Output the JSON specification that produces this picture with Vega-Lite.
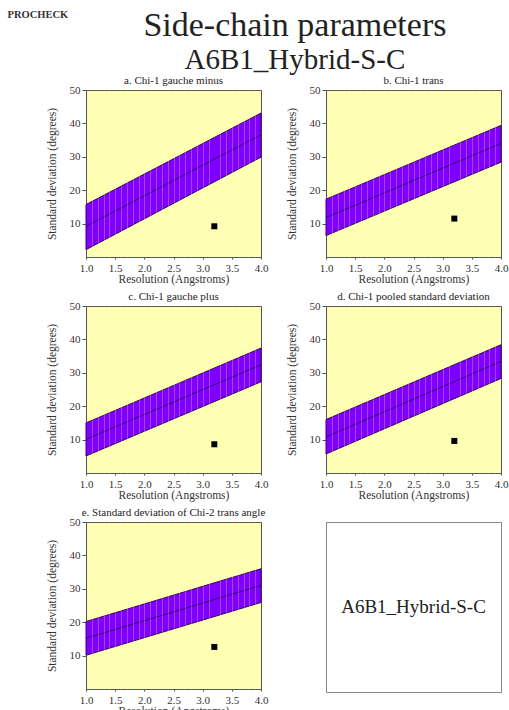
{
  "$schema": "https://vega.github.io/schema/vega-lite/v6.json",
  "padding": {"left": 7, "top": 8, "right": 0, "bottom": 0},
  "background": "white",
  "title": {"text": "PROCHECK", "anchor": "start", "frame": "bounds", "fontSize": 10.5, "fontWeight": "bold", "font": "Liberation Serif", "color": "#333333", "dx": -38, "offset": -12},
  "datasets": {
    "bands": [
      {"panel": "a", "resolution": 1.0, "lower": 2.2, "centre": 9.2, "upper": 15.7},
      {"panel": "a", "resolution": 4.0, "lower": 29.9, "centre": 36.6, "upper": 43.1},
      {"panel": "b", "resolution": 1.0, "lower": 6.4, "centre": 11.8, "upper": 17.3},
      {"panel": "b", "resolution": 4.0, "lower": 28.4, "centre": 34.0, "upper": 39.4},
      {"panel": "c", "resolution": 1.0, "lower": 5.1, "centre": 10.1, "upper": 15.0},
      {"panel": "c", "resolution": 4.0, "lower": 27.3, "centre": 32.4, "upper": 37.4},
      {"panel": "d", "resolution": 1.0, "lower": 5.7, "centre": 10.8, "upper": 16.0},
      {"panel": "d", "resolution": 4.0, "lower": 28.3, "centre": 33.4, "upper": 38.4},
      {"panel": "e", "resolution": 1.0, "lower": 10.1, "centre": 15.2, "upper": 20.2},
      {"panel": "e", "resolution": 4.0, "lower": 25.9, "centre": 31.0, "upper": 36.0}
    ],
    "points": [
      {"panel": "a", "resolution": 3.2, "sd": 9.2},
      {"panel": "b", "resolution": 3.2, "sd": 11.5},
      {"panel": "c", "resolution": 3.2, "sd": 8.6},
      {"panel": "d", "resolution": 3.2, "sd": 9.6},
      {"panel": "e", "resolution": 3.2, "sd": 12.6}
    ]
  },
  "config": {
    "font": "Liberation Serif",
    "view": {"fill": "#FFFFB4", "stroke": "#555555", "strokeWidth": 1},
    "title": {"fontSize": 11, "fontWeight": "normal", "offset": -2, "frame": "group", "color": "#222222", "font": "Liberation Serif"},
    "axis": {"labelFont": "Liberation Serif", "labelFontSize": 11, "titleFont": "Liberation Serif", "titleFontSize": 11.5, "titleFontWeight": "normal", "labelColor": "#333333", "titleColor": "#333333", "domain": false, "tickColor": "#555555", "tickSize": 4, "grid": false}
  },
  "vconcat": [
    {
      "title": {"text": "Side-chain parameters", "subtitle": "A6B1_Hybrid-S-C", "fontSize": 34, "subtitleFontSize": 29, "subtitleFont": "Liberation Serif", "subtitleColor": "#222222", "anchor": "middle", "frame": "bounds", "offset": 0, "subtitlePadding": 3, "dx": 18},
      "columns": 2,
      "bounds": "flush",
      "spacing": {"row": 49, "column": 65},
      "concat": [
        {
          "width": 175, "height": 167,
          "title": {"text": "a. Chi-1 gauche minus"},
          "layer": [
            {"data": {"name": "bands"}, "transform": [{"filter": "datum.panel == 'a'"}],
             "mark": {"type": "area", "color": "#8000FF", "stroke": "#3A006E", "strokeWidth": 1, "opacity": 1},
             "encoding": {
               "x": {"field": "resolution", "type": "quantitative", "scale": {"domain": [1, 4], "nice": false}, "title": "Resolution (Angstroms)",
                     "axis": {"values": [1.0,1.1,1.2,1.3,1.4,1.5,1.6,1.7,1.8,1.9,2.0,2.1,2.2,2.3,2.4,2.5,2.6,2.7,2.8,2.9,3.0,3.1,3.2,3.3,3.4,3.5,3.6,3.7,3.8,3.9,4.0], "tickCount": 100,
                              "labelExpr": "abs(datum.value*2 - round(datum.value*2)) < 0.01 ? format(datum.value, '.1f') : ''",
                              "grid": true, "gridColor": "#FFFFB4",
                              "gridOpacity": {"condition": {"test": "datum.value > 1.01 && datum.value < 3.99 && abs(datum.value - 3.2) > 0.01", "value": 0.27}, "value": 0},
                              "tickOpacity": {"condition": {"test": "abs(datum.value*2 - round(datum.value*2)) < 0.01", "value": 1}, "value": 0},
                              "tickSize": 2, "zindex": 1, "labelOverlap": false, "labelFlush": false, "labelPadding": 3, "titlePadding": 0}},
               "y": {"field": "lower", "type": "quantitative", "scale": {"domain": [0, 50], "nice": false}, "title": "Standard deviation (degrees)",
                     "axis": {"values": [10, 20, 30, 40, 50], "labelPadding": 2, "titlePadding": 12}},
               "y2": {"field": "upper"}
             }},
            {"data": {"name": "bands"}, "transform": [{"filter": "datum.panel == 'a'"}],
             "mark": {"type": "line", "color": "#3A006E", "strokeWidth": 1},
             "encoding": {"x": {"field": "resolution", "type": "quantitative", "title": "Resolution (Angstroms)"}, "y": {"field": "centre", "type": "quantitative", "title": "Standard deviation (degrees)"}}},
            {"data": {"name": "points"}, "transform": [{"filter": "datum.panel == 'a'"}],
             "mark": {"type": "square", "color": "black", "size": 36, "opacity": 1},
             "encoding": {"x": {"field": "resolution", "type": "quantitative", "title": "Resolution (Angstroms)"}, "y": {"field": "sd", "type": "quantitative", "title": "Standard deviation (degrees)"}}}
          ]
        },
        {
          "width": 175, "height": 167,
          "title": {"text": "b. Chi-1 trans"},
          "layer": [
            {"data": {"name": "bands"}, "transform": [{"filter": "datum.panel == 'b'"}],
             "mark": {"type": "area", "color": "#8000FF", "stroke": "#3A006E", "strokeWidth": 1, "opacity": 1},
             "encoding": {
               "x": {"field": "resolution", "type": "quantitative", "scale": {"domain": [1, 4], "nice": false}, "title": "Resolution (Angstroms)",
                     "axis": {"values": [1.0,1.1,1.2,1.3,1.4,1.5,1.6,1.7,1.8,1.9,2.0,2.1,2.2,2.3,2.4,2.5,2.6,2.7,2.8,2.9,3.0,3.1,3.2,3.3,3.4,3.5,3.6,3.7,3.8,3.9,4.0], "tickCount": 100,
                              "labelExpr": "abs(datum.value*2 - round(datum.value*2)) < 0.01 ? format(datum.value, '.1f') : ''",
                              "grid": true, "gridColor": "#FFFFB4",
                              "gridOpacity": {"condition": {"test": "datum.value > 1.01 && datum.value < 3.99 && abs(datum.value - 3.2) > 0.01", "value": 0.27}, "value": 0},
                              "tickOpacity": {"condition": {"test": "abs(datum.value*2 - round(datum.value*2)) < 0.01", "value": 1}, "value": 0},
                              "tickSize": 2, "zindex": 1, "labelOverlap": false, "labelFlush": false, "labelPadding": 3, "titlePadding": 0}},
               "y": {"field": "lower", "type": "quantitative", "scale": {"domain": [0, 50], "nice": false}, "title": "Standard deviation (degrees)",
                     "axis": {"values": [10, 20, 30, 40, 50], "labelPadding": 2, "titlePadding": 12}},
               "y2": {"field": "upper"}
             }},
            {"data": {"name": "bands"}, "transform": [{"filter": "datum.panel == 'b'"}],
             "mark": {"type": "line", "color": "#3A006E", "strokeWidth": 1},
             "encoding": {"x": {"field": "resolution", "type": "quantitative", "title": "Resolution (Angstroms)"}, "y": {"field": "centre", "type": "quantitative", "title": "Standard deviation (degrees)"}}},
            {"data": {"name": "points"}, "transform": [{"filter": "datum.panel == 'b'"}],
             "mark": {"type": "square", "color": "black", "size": 36, "opacity": 1},
             "encoding": {"x": {"field": "resolution", "type": "quantitative", "title": "Resolution (Angstroms)"}, "y": {"field": "sd", "type": "quantitative", "title": "Standard deviation (degrees)"}}}
          ]
        },
        {
          "width": 175, "height": 167,
          "title": {"text": "c. Chi-1 gauche plus"},
          "layer": [
            {"data": {"name": "bands"}, "transform": [{"filter": "datum.panel == 'c'"}],
             "mark": {"type": "area", "color": "#8000FF", "stroke": "#3A006E", "strokeWidth": 1, "opacity": 1},
             "encoding": {
               "x": {"field": "resolution", "type": "quantitative", "scale": {"domain": [1, 4], "nice": false}, "title": "Resolution (Angstroms)",
                     "axis": {"values": [1.0,1.1,1.2,1.3,1.4,1.5,1.6,1.7,1.8,1.9,2.0,2.1,2.2,2.3,2.4,2.5,2.6,2.7,2.8,2.9,3.0,3.1,3.2,3.3,3.4,3.5,3.6,3.7,3.8,3.9,4.0], "tickCount": 100,
                              "labelExpr": "abs(datum.value*2 - round(datum.value*2)) < 0.01 ? format(datum.value, '.1f') : ''",
                              "grid": true, "gridColor": "#FFFFB4",
                              "gridOpacity": {"condition": {"test": "datum.value > 1.01 && datum.value < 3.99 && abs(datum.value - 3.2) > 0.01", "value": 0.27}, "value": 0},
                              "tickOpacity": {"condition": {"test": "abs(datum.value*2 - round(datum.value*2)) < 0.01", "value": 1}, "value": 0},
                              "tickSize": 2, "zindex": 1, "labelOverlap": false, "labelFlush": false, "labelPadding": 3, "titlePadding": 0}},
               "y": {"field": "lower", "type": "quantitative", "scale": {"domain": [0, 50], "nice": false}, "title": "Standard deviation (degrees)",
                     "axis": {"values": [10, 20, 30, 40, 50], "labelPadding": 2, "titlePadding": 12}},
               "y2": {"field": "upper"}
             }},
            {"data": {"name": "bands"}, "transform": [{"filter": "datum.panel == 'c'"}],
             "mark": {"type": "line", "color": "#3A006E", "strokeWidth": 1},
             "encoding": {"x": {"field": "resolution", "type": "quantitative", "title": "Resolution (Angstroms)"}, "y": {"field": "centre", "type": "quantitative", "title": "Standard deviation (degrees)"}}},
            {"data": {"name": "points"}, "transform": [{"filter": "datum.panel == 'c'"}],
             "mark": {"type": "square", "color": "black", "size": 36, "opacity": 1},
             "encoding": {"x": {"field": "resolution", "type": "quantitative", "title": "Resolution (Angstroms)"}, "y": {"field": "sd", "type": "quantitative", "title": "Standard deviation (degrees)"}}}
          ]
        },
        {
          "width": 175, "height": 167,
          "title": {"text": "d. Chi-1 pooled standard deviation"},
          "layer": [
            {"data": {"name": "bands"}, "transform": [{"filter": "datum.panel == 'd'"}],
             "mark": {"type": "area", "color": "#8000FF", "stroke": "#3A006E", "strokeWidth": 1, "opacity": 1},
             "encoding": {
               "x": {"field": "resolution", "type": "quantitative", "scale": {"domain": [1, 4], "nice": false}, "title": "Resolution (Angstroms)",
                     "axis": {"values": [1.0,1.1,1.2,1.3,1.4,1.5,1.6,1.7,1.8,1.9,2.0,2.1,2.2,2.3,2.4,2.5,2.6,2.7,2.8,2.9,3.0,3.1,3.2,3.3,3.4,3.5,3.6,3.7,3.8,3.9,4.0], "tickCount": 100,
                              "labelExpr": "abs(datum.value*2 - round(datum.value*2)) < 0.01 ? format(datum.value, '.1f') : ''",
                              "grid": true, "gridColor": "#FFFFB4",
                              "gridOpacity": {"condition": {"test": "datum.value > 1.01 && datum.value < 3.99 && abs(datum.value - 3.2) > 0.01", "value": 0.27}, "value": 0},
                              "tickOpacity": {"condition": {"test": "abs(datum.value*2 - round(datum.value*2)) < 0.01", "value": 1}, "value": 0},
                              "tickSize": 2, "zindex": 1, "labelOverlap": false, "labelFlush": false, "labelPadding": 3, "titlePadding": 0}},
               "y": {"field": "lower", "type": "quantitative", "scale": {"domain": [0, 50], "nice": false}, "title": "Standard deviation (degrees)",
                     "axis": {"values": [10, 20, 30, 40, 50], "labelPadding": 2, "titlePadding": 12}},
               "y2": {"field": "upper"}
             }},
            {"data": {"name": "bands"}, "transform": [{"filter": "datum.panel == 'd'"}],
             "mark": {"type": "line", "color": "#3A006E", "strokeWidth": 1},
             "encoding": {"x": {"field": "resolution", "type": "quantitative", "title": "Resolution (Angstroms)"}, "y": {"field": "centre", "type": "quantitative", "title": "Standard deviation (degrees)"}}},
            {"data": {"name": "points"}, "transform": [{"filter": "datum.panel == 'd'"}],
             "mark": {"type": "square", "color": "black", "size": 36, "opacity": 1},
             "encoding": {"x": {"field": "resolution", "type": "quantitative", "title": "Resolution (Angstroms)"}, "y": {"field": "sd", "type": "quantitative", "title": "Standard deviation (degrees)"}}}
          ]
        },
        {
          "width": 175, "height": 167,
          "title": {"text": "e. Standard deviation of Chi-2 trans angle"},
          "layer": [
            {"data": {"name": "bands"}, "transform": [{"filter": "datum.panel == 'e'"}],
             "mark": {"type": "area", "color": "#8000FF", "stroke": "#3A006E", "strokeWidth": 1, "opacity": 1},
             "encoding": {
               "x": {"field": "resolution", "type": "quantitative", "scale": {"domain": [1, 4], "nice": false}, "title": "Resolution (Angstroms)",
                     "axis": {"values": [1.0,1.1,1.2,1.3,1.4,1.5,1.6,1.7,1.8,1.9,2.0,2.1,2.2,2.3,2.4,2.5,2.6,2.7,2.8,2.9,3.0,3.1,3.2,3.3,3.4,3.5,3.6,3.7,3.8,3.9,4.0], "tickCount": 100,
                              "labelExpr": "abs(datum.value*2 - round(datum.value*2)) < 0.01 ? format(datum.value, '.1f') : ''",
                              "grid": true, "gridColor": "#FFFFB4",
                              "gridOpacity": {"condition": {"test": "datum.value > 1.01 && datum.value < 3.99 && abs(datum.value - 3.2) > 0.01", "value": 0.27}, "value": 0},
                              "tickOpacity": {"condition": {"test": "abs(datum.value*2 - round(datum.value*2)) < 0.01", "value": 1}, "value": 0},
                              "tickSize": 2, "zindex": 1, "labelOverlap": false, "labelFlush": false, "labelPadding": 3, "titlePadding": 0}},
               "y": {"field": "lower", "type": "quantitative", "scale": {"domain": [0, 50], "nice": false}, "title": "Standard deviation (degrees)",
                     "axis": {"values": [10, 20, 30, 40, 50], "labelPadding": 2, "titlePadding": 12}},
               "y2": {"field": "upper"}
             }},
            {"data": {"name": "bands"}, "transform": [{"filter": "datum.panel == 'e'"}],
             "mark": {"type": "line", "color": "#3A006E", "strokeWidth": 1},
             "encoding": {"x": {"field": "resolution", "type": "quantitative", "title": "Resolution (Angstroms)"}, "y": {"field": "centre", "type": "quantitative", "title": "Standard deviation (degrees)"}}},
            {"data": {"name": "points"}, "transform": [{"filter": "datum.panel == 'e'"}],
             "mark": {"type": "square", "color": "black", "size": 36, "opacity": 1},
             "encoding": {"x": {"field": "resolution", "type": "quantitative", "title": "Resolution (Angstroms)"}, "y": {"field": "sd", "type": "quantitative", "title": "Standard deviation (degrees)"}}}
          ]
        },
        {
          "width": 175, "height": 170,
          "view": {"fill": "white", "stroke": "#888888", "strokeWidth": 1},
          "data": {"values": [{"label": "A6B1_Hybrid-S-C"}]},
          "mark": {"type": "text", "fontSize": 19, "font": "Liberation Serif", "color": "#222222"},
          "encoding": {"text": {"field": "label", "type": "nominal"}}
        }
      ]
    }
  ]
}
